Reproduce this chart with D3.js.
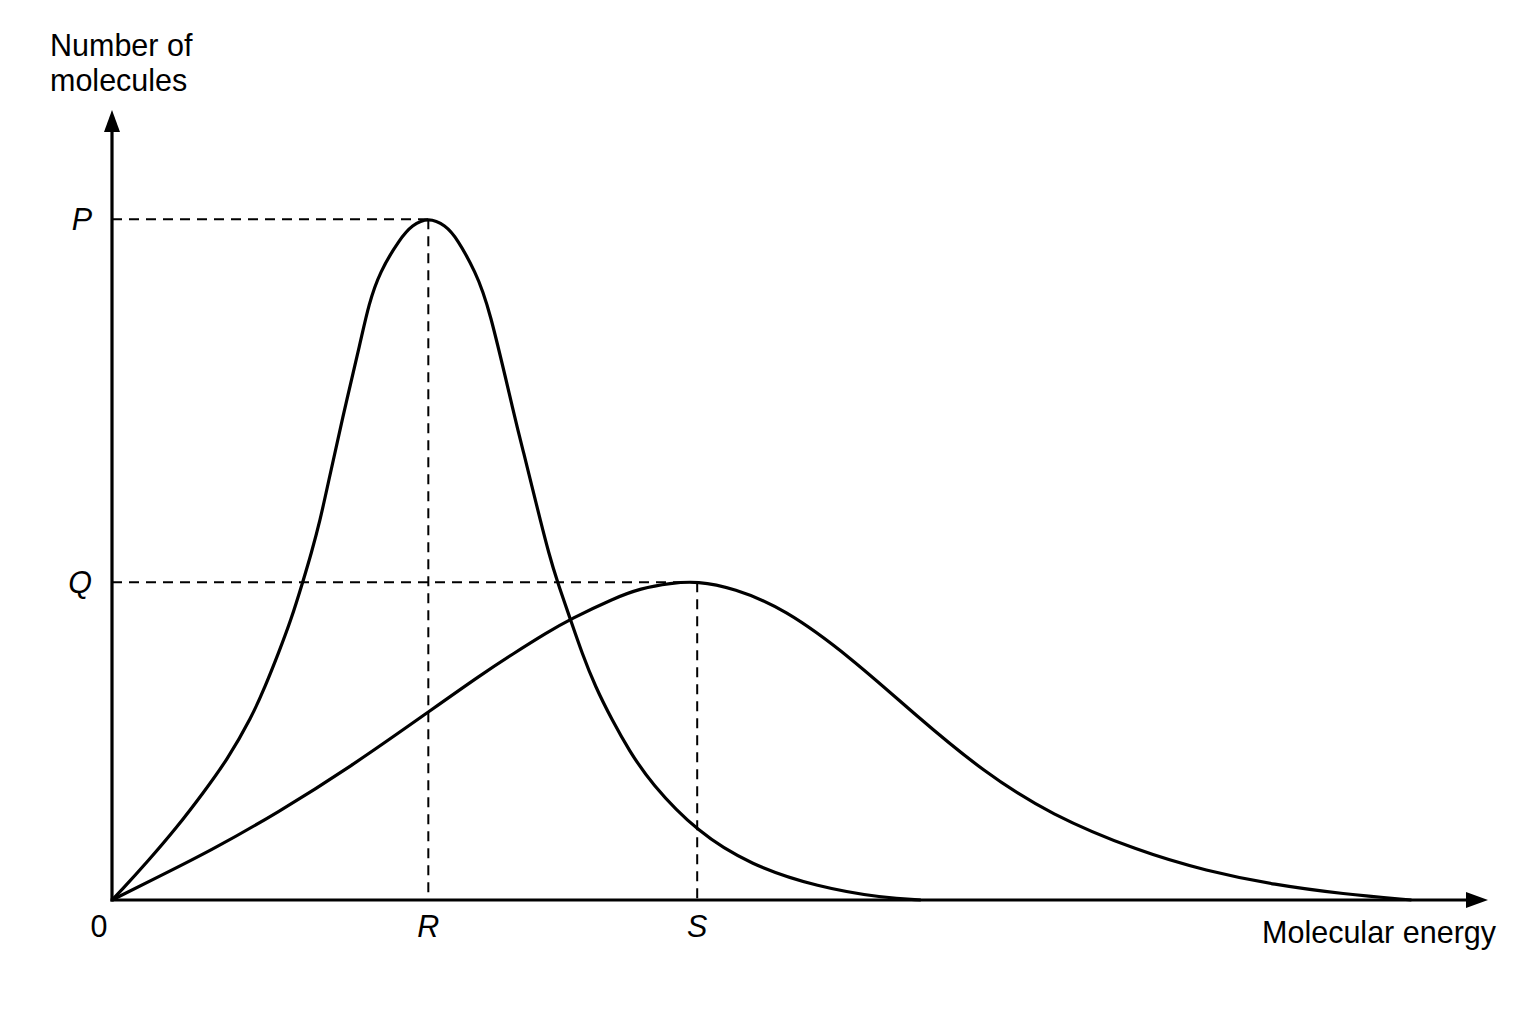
<!DOCTYPE html>
<html>
<head>
<meta charset="utf-8">
<script src="https://cdn.jsdelivr.net/npm/d3@7"></script>
<style>
  html, body { margin: 0; padding: 0; background: #fff; }
  svg { display: block; }
  text { font-family: "Liberation Sans", Arial, sans-serif; fill: #000; }
</style>
</head>
<body>
<svg id="chart" width="1536" height="1024"></svg>
<script>
// ---- data (abstract energy / count units) ----
const lowTempEnergy = [0, 0.25, 1.14, 2.06, 2.88, 3.64, 4.42, 4.84, 5.26, 5.66, 6.04, 6.30, 6.58, 6.81, 7.27, 7.88, 8.11, 8.46, 9.11, 9.48, 10,
                       10.54, 10.91, 11.49, 11.91, 12.75, 13.02, 13.28, 13.54, 13.81, 14.07, 14.49, 14.86, 15.28, 15.81, 16.34, 17.03, 18.5, 20.19, 22.31, 24.40, 25.57];
const lowTempCount  = [0, 1.17, 5.71, 10.69, 15.67, 20.50, 26.84, 31.23, 36.12, 41.00, 46.71, 50.76, 55.64, 60.51, 70.28, 82.24, 87.12, 91.99, 96.88, 98.83, 100,
                       98.83, 96.88, 91.99, 87.12, 70.28, 65.40, 60.51, 55.64, 50.76, 46.71, 41.14, 36.12, 31.23, 26.35, 21.96, 17.13, 9.96, 5.12, 1.90, 0.29, 0];
const highTempEnergy = [0, 1.52, 3.16, 5.22, 7.53, 10, 11.65, 12.70, 13.76, 14.49, 15.86, 16.71, 17.66, 18.5, 19.65, 21.23, 23.35, 25.47, 27.56, 29.68, 32.44, 34.59, 36.77, 38.92, 41.08];
const highTempCount  = [0, 3.51, 7.32, 12.74, 19.47, 27.53, 32.94, 36.12, 39.19, 41.14, 44.17, 45.64, 46.41, 46.71, 45.68, 42.75, 35.58, 26.79, 18.74, 12.45, 7.17, 4.25, 2.20, 0.88, 0];
const peakLabelsY = ["P", "Q"];
const peakValuesY = [99.7, 46.55];
const peakLabelsX = ["R", "S"];
const peakValuesX = [10, 18.5];
const xAxisTitle = "Molecular energy";
const yAxisTitle = ["Number of", "molecules"];
const originLabel = "0";
const xMax = 43.5, yMax = 115.7;

// ---- scales ----
const x = d3.scaleLinear().domain([0, xMax]).range([112, 1488]);
const y = d3.scaleLinear().domain([0, yMax]).range([900, 110]);

const svg = d3.select("#chart");

// dashed guide lines
const guides = svg.append("g").attr("stroke", "#000").attr("stroke-width", 2)
  .attr("stroke-dasharray", "10,7").attr("fill", "none");
peakValuesY.forEach((v, i) => {
  const xv = peakValuesX[i];
  guides.append("line").attr("x1", x(0)).attr("x2", x(xv)).attr("y1", y(v)).attr("y2", y(v));
  guides.append("line").attr("x1", x(xv)).attr("x2", x(xv)).attr("y1", y(v)).attr("y2", y(0));
});

// curves (smoothed B-spline through the read points)
const line = d3.line().x(d => x(d[0])).y(d => y(d[1])).curve(d3.curveBasis);
const lowData = lowTempEnergy.map((e, i) => [e, lowTempCount[i]]);
const highData = highTempEnergy.map((e, i) => [e, highTempCount[i]]);
[lowData, highData].forEach(dat => {
  svg.append("path").datum(dat).attr("d", line)
    .attr("fill", "none").attr("stroke", "#000").attr("stroke-width", 3.2)
    .attr("stroke-linejoin", "round");
});

// axes with arrows
const ax = svg.append("g");
ax.append("line").attr("x1", x(0) - 1.5).attr("x2", x(xMax) - 10).attr("y1", y(0)).attr("y2", y(0))
  .attr("stroke", "#000").attr("stroke-width", 3.2);
ax.append("line").attr("x1", x(0)).attr("x2", x(0)).attr("y1", y(0) + 1.5).attr("y2", y(yMax) + 10)
  .attr("stroke", "#000").attr("stroke-width", 3.2);
const tipX = [x(xMax), y(0)];
ax.append("path").attr("d", `M${tipX[0]},${tipX[1]} L${tipX[0]-22},${tipX[1]-8} L${tipX[0]-22},${tipX[1]+8} Z`).attr("fill", "#000");
const tipY = [x(0), y(yMax)];
ax.append("path").attr("d", `M${tipY[0]},${tipY[1]} L${tipY[0]-8},${tipY[1]+22} L${tipY[0]+8},${tipY[1]+22} Z`).attr("fill", "#000");

// labels
const fs = 30.5;
peakLabelsY.forEach((lab, i) => {
  svg.append("text").attr("x", x(0) - 20).attr("y", y(peakValuesY[i]))
    .attr("text-anchor", "end").attr("dominant-baseline", "central")
    .attr("font-style", "italic").attr("font-size", fs).text(lab);
});
peakLabelsX.forEach((lab, i) => {
  svg.append("text").attr("x", x(peakValuesX[i])).attr("y", 937)
    .attr("text-anchor", "middle").attr("font-style", "italic").attr("font-size", fs).text(lab);
});
svg.append("text").attr("x", 99).attr("y", 937).attr("text-anchor", "middle")
  .attr("font-size", fs).text(originLabel);
svg.append("text").attr("x", 1496).attr("y", 943).attr("text-anchor", "end")
  .attr("font-size", fs).text(xAxisTitle);
yAxisTitle.forEach((t, i) => {
  svg.append("text").attr("x", 50).attr("y", 56 + i * 35).attr("font-size", fs).text(t);
});
</script>
</body>
</html>
